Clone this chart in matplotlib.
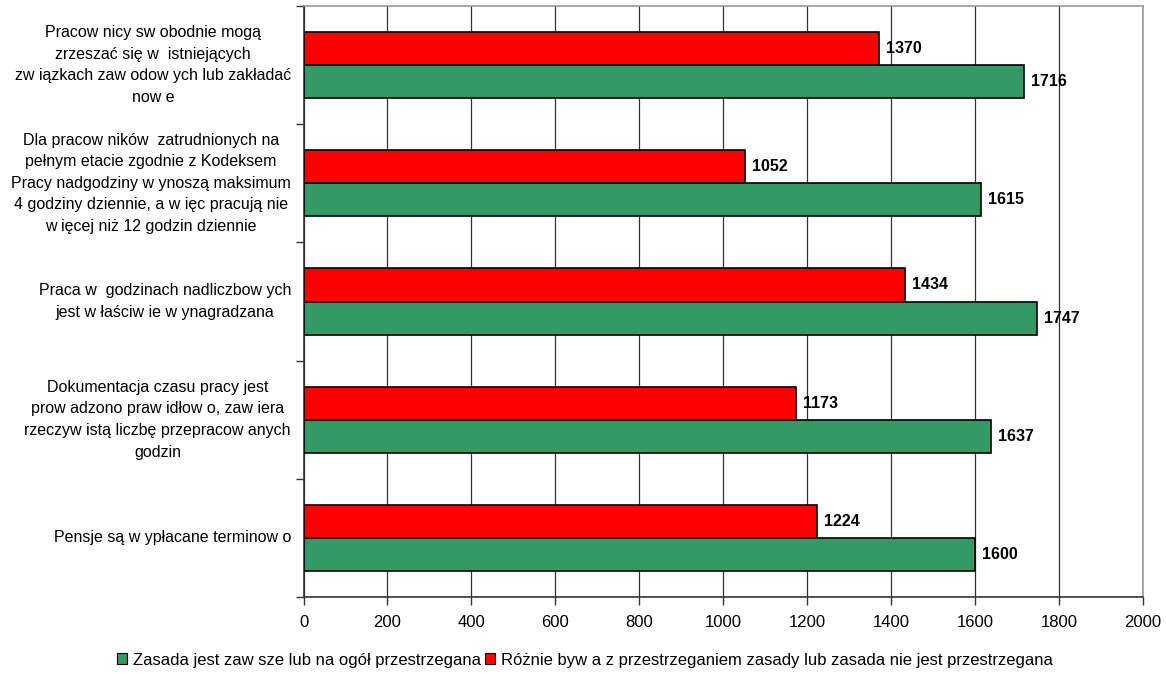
import matplotlib
matplotlib.use("Agg")
import matplotlib.pyplot as plt
import numpy as np

plt.rcParams['font.family'] = ['Liberation Sans', 'DejaVu Sans']

categories = [
    "Pracow nicy sw obodnie mogą\nzrzeszać się w  istniejących\nzw iązkach zaw odow ych lub zakładać\nnow e",
    "Dla pracow ników  zatrudnionych na\npełnym etacie zgodnie z Kodeksem\nPracy nadgodziny w ynoszą maksimum\n4 godziny dziennie, a w ięc pracują nie\nw ięcej niż 12 godzin dziennie",
    "Praca w  godzinach nadliczbow ych\njest w łaściw ie w ynagradzana",
    "Dokumentacja czasu pracy jest\nprow adzono praw idłow o, zaw iera\nrzeczyw istą liczbę przepracow anych\ngodzin",
    "Pensje są w ypłacane terminow o",
]
always = [1716, 1615, 1747, 1637, 1600]
sometimes = [1370, 1052, 1434, 1173, 1224]
series_names = [
    "Zasada jest zaw sze lub na ogół przestrzegana",
    "Różnie byw a z przestrzeganiem zasady lub zasada nie jest przestrzegana",
]
xticks = [0, 200, 400, 600, 800, 1000, 1200, 1400, 1600, 1800, 2000]

green = "#339966"
red = "#FF0000"

W, H = 1166, 674
fig = plt.figure(figsize=(W / 100, H / 100), dpi=100)
ax = fig.add_axes([303.5 / W, 1 - 597 / H, (1143 - 303.5) / W, (597 - 6) / H])

n = len(categories)
pos = np.arange(n)
h = 0.28
b_red = ax.barh(pos - h / 2, sometimes, height=h, color=red, edgecolor="black", linewidth=1.2, zorder=3)
b_green = ax.barh(pos + h / 2, always, height=h, color=green, edgecolor="black", linewidth=1.2, zorder=3)

for bars, vals in ((b_red, sometimes), (b_green, always)):
    for rect, v in zip(bars, vals):
        ax.annotate(f"{v}", (v, rect.get_y() + rect.get_height() / 2), xytext=(5, 0),
                    textcoords="offset points", va="center", ha="left",
                    fontsize=11.5, fontweight="bold", zorder=4)

ax.set_xlim(0, 2000)
ax.set_ylim(n - 0.5, -0.5)
ax.set_xticks(xticks)
ax.set_xticklabels([str(t) for t in xticks], fontsize=12)
ax.set_yticks(np.arange(n + 1) - 0.5)
ax.set_yticklabels([])
ax.tick_params(axis="y", direction="out", length=6, width=1, color="#333333")
ax.tick_params(axis="x", direction="out", length=6, width=1, color="#333333", pad=7)
ax.grid(axis="x", color="#333333", linewidth=0.9, zorder=0)

# category labels: text block right-aligned next to the axis, lines centred
label_x = 291 / W
for i, lab in enumerate(categories):
    y_disp = ax.transData.transform((0, i))[1]
    y_fig = fig.transFigure.inverted().transform((0, y_disp))[1]
    fig.text(label_x, y_fig, lab, ha="right", va="center", multialignment="center",
             fontsize=11.5, linespacing=1.55)

for s in ("top", "right"):
    ax.spines[s].set_color("#999999")
    ax.spines[s].set_linewidth(1.2)
for s in ("left", "bottom"):
    ax.spines[s].set_color("#333333")
    ax.spines[s].set_linewidth(1.2)

handles = [plt.Rectangle((0, 0), 1, 1, facecolor=green, edgecolor="black", linewidth=0.8),
           plt.Rectangle((0, 0), 1, 1, facecolor=red, edgecolor="black", linewidth=0.8)]
fig.legend(handles, series_names, loc="center", bbox_to_anchor=(585 / W, 1 - 660 / H),
           ncol=2, frameon=False, fontsize=12, handlelength=0.6, handleheight=0.6,
           handletextpad=0.35, columnspacing=0.25)

fig.savefig("out.png", dpi=100)
